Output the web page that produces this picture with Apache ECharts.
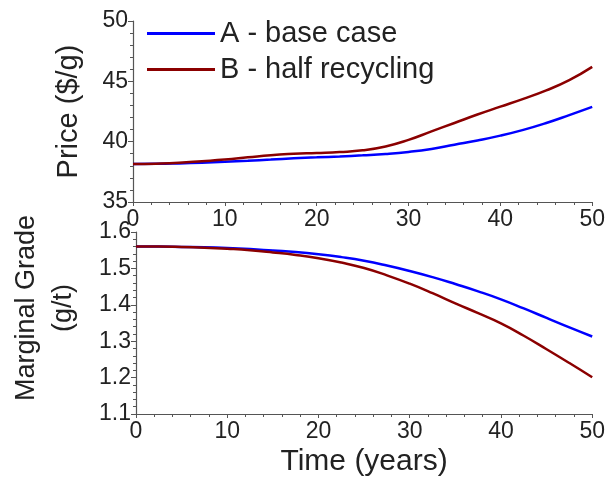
<!DOCTYPE html>
<html>
<head>
<meta charset="utf-8">
<script src="https://cdn.jsdelivr.net/npm/echarts@6/dist/echarts.min.js"></script>
<style>
  html, body { margin: 0; padding: 0; background: #fff; }
  #chart { width: 608px; height: 485px; }
</style>
</head>
<body>
<div id="chart"></div>
<script>
// Time axis (years)
const years = [0, 2.5, 5, 7.5, 10, 12.5, 15, 17.5, 20, 22.5, 25,
               27.5, 30, 32.5, 35, 37.5, 40, 42.5, 45, 47.5, 50];

// Price ($/g)
const priceA = [38.15, 38.16, 38.2, 38.26, 38.33, 38.42, 38.52, 38.62, 38.7, 38.78, 38.87,
                38.98, 39.15, 39.4, 39.75, 40.1, 40.5, 40.98, 41.55, 42.2, 42.88];
const priceB = [38.15, 38.18, 38.25, 38.38, 38.52, 38.7, 38.88, 38.99, 39.06, 39.14, 39.28,
                39.6, 40.15, 40.85, 41.55, 42.25, 42.9, 43.55, 44.25, 45.1, 46.2];

// Marginal grade (g/t)
const gradeA = [1.56, 1.56, 1.559, 1.558, 1.556, 1.553, 1.549, 1.545, 1.539, 1.531, 1.521,
                1.508, 1.493, 1.476, 1.457, 1.437, 1.415, 1.39, 1.364, 1.338, 1.313];
const gradeB = [1.56, 1.56, 1.559, 1.557, 1.554, 1.55, 1.544, 1.537, 1.528, 1.516, 1.501,
                1.481, 1.458, 1.432, 1.404, 1.377, 1.349, 1.315, 1.278, 1.24, 1.201];

const seriesNames = ['A - base case', 'B - half recycling'];
const colors = ['#0000FF', '#8B0000'];

const FONT = "'Liberation Sans', Arial, Helvetica, sans-serif";
const TEXT = '#222';
const AXIS = '#555';

const pairs = (xs, ys) => xs.map((x, i) => [x, ys[i]]);

function xAxisFor(gridIndex, withName) {
  const ax = {
    type: 'value', gridIndex, min: 0, max: 50, interval: 10,
    axisLine: { show: true, lineStyle: { color: AXIS, width: 1.2 } },
    axisTick: { show: true, length: 4, lineStyle: { color: AXIS } },
    minorTick: { show: true, splitNumber: 5, length: 3, lineStyle: { color: AXIS } },
    splitLine: { show: false },
    axisLabel: { margin: 6, fontSize: 23, color: TEXT, fontFamily: FONT }
  };
  if (withName) {
    ax.name = 'Time (years)';
    ax.nameLocation = 'middle';
    ax.nameGap = 33;
    ax.nameTextStyle = { fontSize: 30, color: TEXT, fontFamily: FONT };
  }
  return ax;
}

function yAxisFor(gridIndex, min, max, interval, name, nameGap, nameStyle) {
  return {
    type: 'value', gridIndex, min, max, interval,
    name, nameLocation: 'middle', nameGap,
    nameTextStyle: Object.assign({ color: TEXT, fontFamily: FONT }, nameStyle),
    axisLine: { show: true, lineStyle: { color: AXIS, width: 1.2 } },
    axisTick: { show: true, length: 5, lineStyle: { color: AXIS } },
    minorTick: { show: true, splitNumber: 5, length: 3, lineStyle: { color: AXIS } },
    splitLine: { show: false },
    axisLabel: { margin: 5, fontSize: 23, color: TEXT, fontFamily: FONT,
      formatter: v => (interval < 1 ? v.toFixed(1) : String(v)) }
  };
}

function line(name, data, color, xi, yi) {
  return {
    name, type: 'line', xAxisIndex: xi, yAxisIndex: yi,
    data, symbol: 'none', smooth: 0.5,
    lineStyle: { color, width: 2.5 }, itemStyle: { color },
    emphasis: { disabled: true }
  };
}

const chart = echarts.init(document.getElementById('chart'), null, { renderer: 'canvas' });
chart.setOption({
  animation: false,
  backgroundColor: '#fff',
  grid: [
    { left: 133, right: 15, top: 21, height: 181 },
    { left: 133, right: 15, top: 232, height: 182 }
  ],
  legend: {
    orient: 'vertical', left: 142, top: 14,
    icon: 'rect', itemWidth: 68, itemHeight: 3, itemGap: 7,
    data: seriesNames,
    textStyle: { fontSize: 29, color: TEXT, fontFamily: FONT }
  },
  xAxis: [xAxisFor(0, false), xAxisFor(1, true)],
  yAxis: [
    yAxisFor(0, 35, 50, 5, 'Price ($/g)', 50, { fontSize: 29 }),
    yAxisFor(1, 1.1, 1.6, 0.1, 'Marginal Grade\n(g/t)', 54,
      { fontSize: 27, lineHeight: 37, padding: [0, 0, 0, 30] })
  ],
  series: [
    line(seriesNames[0], pairs(years, priceA), colors[0], 0, 0),
    line(seriesNames[1], pairs(years, priceB), colors[1], 0, 0),
    line(seriesNames[0], pairs(years, gradeA), colors[0], 1, 1),
    line(seriesNames[1], pairs(years, gradeB), colors[1], 1, 1)
  ]
});
</script>
</body>
</html>
